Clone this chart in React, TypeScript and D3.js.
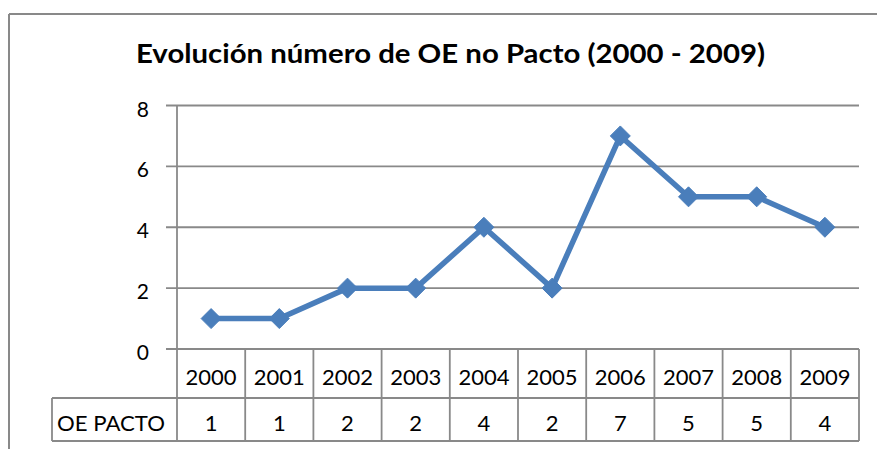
import React from "react";
import * as d3 from "d3";

const years: string[] = ["2000", "2001", "2002", "2003", "2004", "2005", "2006", "2007", "2008", "2009"];
const oePacto: number[] = [1, 1, 2, 2, 4, 2, 7, 5, 5, 4];
const yTicks: number[] = [0, 2, 4, 6, 8];
const seriesName = "OE PACTO";
const title = "Evolución número de OE no Pacto (2000 - 2009)";

const W = 877;
const H = 449;
const plotLeft = 177;
const plotRight = 859;
const plotTop = 105.5;
const plotBottom = 349;
const row1Bottom = 398;
const row2Bottom = 441;
const labelCellLeft = 52;
const grid = "#898989";
const blue = "#4A7EBB";
const font = "Lato, 'Open Sans', sans-serif";

export default function App() {
  const x = d3.scaleBand<string>().domain(years).range([plotLeft, plotRight]).padding(0);
  const y = d3.scaleLinear().domain([0, 8]).range([plotBottom, plotTop]);
  const line = d3
    .line<number>()
    .x((_, i) => (x(years[i]) as number) + x.bandwidth() / 2)
    .y((d) => y(d));
  const bw = x.bandwidth();
  const diamond = (cx: number, cy: number, r: number) =>
    `M${cx},${cy - r}L${cx + r},${cy}L${cx},${cy + r}L${cx - r},${cy}Z`;

  return (
    <div style={{ position: "fixed", left: 0, top: 0 }}>
      <svg width={W} height={H} style={{ display: "block", background: "#fff" }}>
        {/* outer border */}
        <line x1={9} y1={14} x2={W} y2={14} stroke={grid} strokeWidth={2} />
        <line x1={9} y1={14} x2={9} y2={H} stroke={grid} strokeWidth={2} />

        <text
          x={450.5}
          y={63}
          textAnchor="middle"
          fontFamily={font}
          fontWeight="bold"
          fontSize={27}
          textLength={629}
          lengthAdjust="spacingAndGlyphs"
          fill="#000"
        >
          {title}
        </text>

        {/* gridlines and ticks */}
        {yTicks.map((t) => (
          <g key={t}>
            <line x1={166} x2={plotRight} y1={y(t)} y2={y(t)} stroke={grid} strokeWidth={1.8} />
            <text
              x={149}
              y={y(t) + 11}
              textAnchor="end"
              fontFamily={font}
              fontSize={21}
              fill="#000"
            >
              {t}
            </text>
          </g>
        ))}

        {/* y axis */}
        <line x1={plotLeft} x2={plotLeft} y1={plotTop} y2={row2Bottom} stroke={grid} strokeWidth={1.8} />

        {/* data table */}
        <line x1={labelCellLeft} x2={plotRight} y1={row1Bottom} y2={row1Bottom} stroke={grid} strokeWidth={1.8} />
        <line x1={labelCellLeft} x2={plotRight} y1={row2Bottom} y2={row2Bottom} stroke={grid} strokeWidth={1.8} />
        <line x1={labelCellLeft} x2={labelCellLeft} y1={row1Bottom} y2={row2Bottom} stroke={grid} strokeWidth={1.8} />
        {years.map((yr) => (
          <line
            key={"v" + yr}
            x1={(x(yr) as number) + bw}
            x2={(x(yr) as number) + bw}
            y1={plotBottom}
            y2={row2Bottom}
            stroke={grid}
            strokeWidth={1.8}
          />
        ))}
        {years.map((yr, i) => (
          <g key={"t" + yr}>
            <text
              x={(x(yr) as number) + bw / 2}
              y={385}
              textAnchor="middle"
              fontFamily={font}
              fontSize={22}
              fill="#000"
            >
              {yr}
            </text>
            <text
              x={(x(yr) as number) + bw / 2}
              y={431}
              textAnchor="middle"
              fontFamily={font}
              fontSize={22}
              fill="#000"
            >
              {oePacto[i]}
            </text>
          </g>
        ))}
        <text
          x={57}
          y={431}
          fontFamily={font}
          fontSize={21}
          textLength={108}
          lengthAdjust="spacingAndGlyphs"
          fill="#000"
        >
          {seriesName}
        </text>

        {/* series */}
        <path d={line(oePacto) || ""} fill="none" stroke={blue} strokeWidth={5.5} strokeLinejoin="round" />
        {oePacto.map((v, i) => (
          <path
            key={"m" + i}
            d={diamond((x(years[i]) as number) + bw / 2, y(v), 10)}
            fill={blue}
            stroke={blue}
            strokeWidth={1}
          />
        ))}
      </svg>
    </div>
  );
}
